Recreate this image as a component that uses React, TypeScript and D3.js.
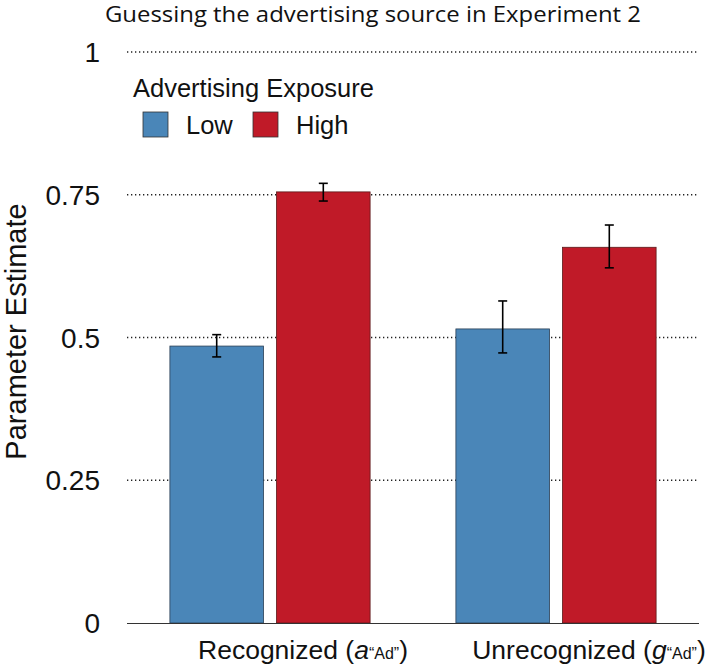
import * as d3 from 'd3';
import React, { useEffect, useRef } from 'react';

const categories = ['Recognized', 'Unrecognized'];
const categorySymbols = ['a', 'g'];
const groups = ['Low', 'High'];
const lowValues = [0.485, 0.515];
const lowErrLo = [0.466, 0.473];
const lowErrHi = [0.505, 0.564];
const highValues = [0.755, 0.658];
const highErrLo = [0.739, 0.622];
const highErrHi = [0.77, 0.697];
const yTicks = [0, 0.25, 0.5, 0.75, 1];
const yTickLabels = ['0', '0.25', '0.5', '0.75', '1'];
const colors = ['#4a86b8', '#c01a28'];

const App = () => {
   const ref = useRef<SVGSVGElement | null>(null);

   useEffect(() => {
      const svg = d3.select(ref.current);
      svg.selectAll('*').remove();

      const font = '"Liberation Sans", Arial, sans-serif';
      const left = 127;
      const right = 699;
      const y = d3.scaleLinear().domain([0, 1]).range([623, 52]);

      const x0 = d3.scaleBand().domain(categories).range([left, right]).paddingInner(0.3).paddingOuter(0.15);
      const x1 = d3.scaleBand().domain(groups).range([0, x0.bandwidth()]).paddingInner(0.122);

      // title
      svg.append('text')
         .attr('x', 105)
         .attr('y', 22)
         .attr('textLength', 536)
         .attr('lengthAdjust', 'spacingAndGlyphs')
         .attr('font-family', '"Open Sans", sans-serif')
         .attr('font-size', 21.5)
         .attr('fill', '#111')
         .text('Guessing the advertising source in Experiment 2');

      // grid
      yTicks.filter((t) => t > 0).forEach((t) => {
         svg.append('line')
            .attr('x1', left).attr('x2', right)
            .attr('y1', y(t)).attr('y2', y(t))
            .attr('stroke', '#222')
            .attr('stroke-width', 1.3)
            .attr('stroke-dasharray', '1.3,2.7');
      });

      // y tick labels
      yTicks.forEach((t, i) => {
         svg.append('text')
            .attr('x', 100)
            .attr('y', y(t) + 10)
            .attr('text-anchor', 'end')
            .attr('font-family', font)
            .attr('font-size', 28)
            .attr('fill', '#111')
            .text(yTickLabels[i]);
      });

      svg.append('text')
         .attr('transform', `translate(26,${y(0.5) - 6}) rotate(-90)`)
         .attr('text-anchor', 'middle')
         .attr('font-family', font)
         .attr('font-size', 29)
         .attr('fill', '#111')
         .text('Parameter Estimate');

      // bars
      const series = [
         { vals: lowValues, lo: lowErrLo, hi: lowErrHi },
         { vals: highValues, lo: highErrLo, hi: highErrHi },
      ];
      categories.forEach((c, ci) => {
         series.forEach((s, si) => {
            const bx = (x0(c) ?? 0) + (x1(groups[si]) ?? 0);
            const bw = x1.bandwidth();
            svg.append('rect')
               .attr('x', bx)
               .attr('y', y(s.vals[ci]))
               .attr('width', bw)
               .attr('height', y(0) - y(s.vals[ci]))
               .attr('fill', colors[si])
               .attr('stroke', si === 0 ? '#2a3f55' : '#5a1a1a')
               .attr('stroke-width', 0.8);
            const cx = bx + bw / 2;
            svg.append('line')
               .attr('x1', cx).attr('x2', cx)
               .attr('y1', y(s.lo[ci])).attr('y2', y(s.hi[ci]))
               .attr('stroke', '#000').attr('stroke-width', 1.6);
            [s.lo[ci], s.hi[ci]].forEach((v) => {
               svg.append('line')
                  .attr('x1', cx - 4.5).attr('x2', cx + 4.5)
                  .attr('y1', y(v)).attr('y2', y(v))
                  .attr('stroke', '#000').attr('stroke-width', 1.6);
            });
         });
      });

      // x axis line
      svg.append('line')
         .attr('x1', left).attr('x2', right)
         .attr('y1', y(0) + 0.5).attr('y2', y(0) + 0.5)
         .attr('stroke', '#333').attr('stroke-width', 1.2);

      // x labels
      categories.forEach((c, ci) => {
         const t = svg.append('text')
            .attr('x', (x0(c) ?? 0) + x0.bandwidth() / 2 + 33)
            .attr('y', 659)
            .attr('text-anchor', 'middle')
            .attr('font-family', font)
            .attr('font-size', 26.5)
            .attr('fill', '#111');
         t.append('tspan').text(`${c} (`);
         t.append('tspan').attr('font-style', 'italic').text(categorySymbols[ci]);
         t.append('tspan').attr('font-size', 16).text('\u201CAd\u201D');
         t.append('tspan').text(')');
      });

      // legend
      svg.append('text')
         .attr('x', 133)
         .attr('y', 97)
         .attr('font-family', font)
         .attr('font-size', 25.5)
         .attr('fill', '#111')
         .text('Advertising Exposure');
      const legendX = [143, 253];
      groups.forEach((gname, i) => {
         svg.append('rect')
            .attr('x', legendX[i]).attr('y', 112)
            .attr('width', 25).attr('height', 25)
            .attr('fill', colors[i])
            .attr('stroke', '#333').attr('stroke-width', 0.8);
         svg.append('text')
            .attr('x', legendX[i] + 43)
            .attr('y', 134)
            .attr('font-family', font)
            .attr('font-size', 25.5)
            .attr('fill', '#111')
            .text(gname);
      });
   }, []);

   return (
      <svg
         ref={ref}
         width={708}
         height={670}
         style={{ position: 'absolute', left: 0, top: 0, background: '#fff' }}
      />
   );
};

export default App;
